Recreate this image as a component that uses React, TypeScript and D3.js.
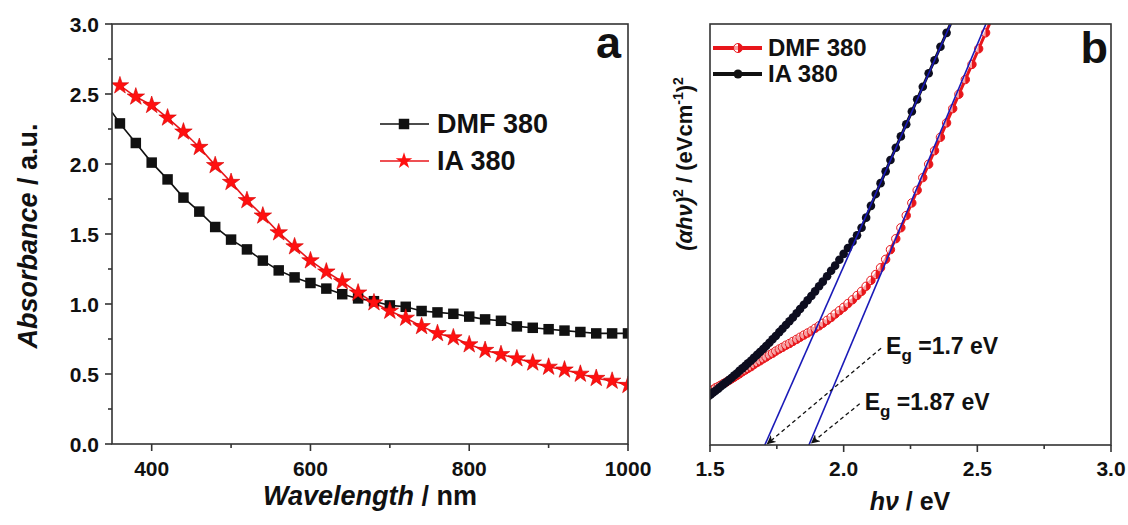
import React from 'react';
import * as d3 from 'd3';

// ---------- Panel a data ----------
const wavelengths = [360, 380, 400, 420, 440, 460, 480, 500, 520, 540, 560, 580, 600, 620, 640, 660, 680, 700, 720, 740, 760, 780, 800, 820, 840, 860, 880, 900, 920, 940, 960, 980, 1000];
const dmfStart = { wl: 350, a: 2.37 };
const dmfAbs = [2.29, 2.15, 2.01, 1.89, 1.76, 1.66, 1.55, 1.46, 1.39, 1.31, 1.24, 1.19, 1.15, 1.11, 1.07, 1.04, 1.02, 0.99, 0.98, 0.95, 0.94, 0.93, 0.91, 0.89, 0.88, 0.84, 0.83, 0.82, 0.81, 0.80, 0.79, 0.79, 0.79];
const iaAbs = [2.56, 2.48, 2.42, 2.33, 2.23, 2.12, 1.99, 1.87, 1.74, 1.63, 1.51, 1.41, 1.31, 1.23, 1.16, 1.08, 1.01, 0.95, 0.90, 0.84, 0.79, 0.76, 0.71, 0.67, 0.64, 0.61, 0.58, 0.55, 0.53, 0.50, 0.47, 0.45, 0.42];
const aXTicks = [400, 600, 800, 1000];
const aXMinor = [500, 700, 900];
const aYTicks = [0, 0.5, 1.0, 1.5, 2.0, 2.5, 3.0];
const aYMinor = [0.25, 0.75, 1.25, 1.75, 2.25, 2.75];

// ---------- Panel b data ----------
const hvGrid = [1.494, 1.503, 1.512, 1.521, 1.531, 1.540, 1.550, 1.560, 1.570, 1.580,
  1.590, 1.600, 1.610, 1.621, 1.632, 1.642, 1.653, 1.664, 1.676, 1.687,
  1.699, 1.710, 1.722, 1.734, 1.746, 1.759, 1.771, 1.784, 1.797, 1.810,
  1.824, 1.837, 1.851, 1.865, 1.879, 1.893, 1.908, 1.922, 1.938, 1.953,
  1.968, 1.984, 2.000, 2.016, 2.033, 2.050, 2.067, 2.084, 2.102, 2.120,
  2.138, 2.157, 2.175, 2.195, 2.214, 2.234, 2.255, 2.275, 2.296, 2.318,
  2.340, 2.362, 2.385, 2.408, 2.431, 2.455, 2.480, 2.505, 2.531, 2.558];
const iaTauc = [1.16, 1.20, 1.25, 1.29, 1.34, 1.39, 1.44, 1.49, 1.54, 1.59,
  1.65, 1.70, 1.76, 1.82, 1.88, 1.94, 2.00, 2.07, 2.14, 2.21,
  2.28, 2.35, 2.43, 2.51, 2.59, 2.68, 2.76, 2.85, 2.94, 3.03,
  3.13, 3.23, 3.33, 3.44, 3.54, 3.65, 3.77, 3.88, 4.01, 4.14,
  4.26, 4.40, 4.54, 4.68, 4.83, 4.98, 5.16, 5.40, 5.68, 5.96,
  6.22, 6.50, 6.77, 7.06, 7.33, 7.62, 7.92, 8.21, 8.51, 8.83,
  9.14, 9.46, 9.79, 10.12];
const dmfTauc = [1.26, 1.29, 1.32, 1.36, 1.39, 1.42, 1.46, 1.49, 1.53, 1.57,
  1.61, 1.65, 1.69, 1.74, 1.78, 1.82, 1.86, 1.91, 1.96, 2.00,
  2.05, 2.09, 2.14, 2.18, 2.23, 2.28, 2.32, 2.37, 2.41, 2.46,
  2.51, 2.56, 2.61, 2.66, 2.71, 2.77, 2.83, 2.89, 2.96, 3.03,
  3.11, 3.19, 3.27, 3.36, 3.45, 3.55, 3.65, 3.77, 3.91, 4.05,
  4.21, 4.41, 4.64, 4.90, 5.16, 5.45, 5.75, 6.05, 6.35, 6.67,
  6.99, 7.31, 7.65, 7.99, 8.33, 8.68, 9.04, 9.41, 9.79, 10.18];
const iaFitHv = [1.705, 2.40];
const dmfFitHv = [1.870, 2.532];
const fitY = [0, 10];
const bXTicks = [1.5, 2.0, 2.5, 3.0];
const bXMinor = [1.75, 2.25, 2.75];
// Eg annotations: label value, arrow start (hv, y), arrow end (hv, y)
const egValues = ['1.7', '1.87'];
const egArrowFrom = [[2.14, 2.3], [2.06, 0.98]];
const egArrowTo = [[1.715, 0.03], [1.88, 0.05]];

const FONT = '"Liberation Sans", Arial, sans-serif';
const AX = '#333';

const A = { left: 112, right: 628, top: 24, bottom: 444 };
const B = { left: 710, right: 1111, top: 24, bottom: 445 };

const xa = d3.scaleLinear().domain([350, 1000]).range([A.left, A.right]);
const ya = d3.scaleLinear().domain([0, 3]).range([A.bottom, A.top]);
const xb = d3.scaleLinear().domain([1.5, 3.0]).range([B.left, B.right]);
const yb = d3.scaleLinear().domain([0, 10]).range([B.bottom, B.top]);

const squarePath = d3.symbol(d3.symbolSquare, 110)()!;
const starPath = d3.symbol(d3.symbolStar, 95)()!;
const legendStarPath = d3.symbol(d3.symbolStar, 85)()!;

function HalfCircle({ x, y, r }: { x: number; y: number; r: number }) {
  return (
    <g transform={`translate(${x},${y})`}>
      <circle r={r} fill="#fff" fillOpacity={0.6} stroke="#e8161b" strokeWidth={1} />
      <path d={`M0,${-r} A${r},${r} 0 0 1 0,${r} Z`} fill="#e8161b" />
    </g>
  );
}

export default function App() {
  const dmfPts = [dmfStart, ...wavelengths.map((w, i) => ({ wl: w, a: dmfAbs[i] }))];
  const iaPts = wavelengths.map((w, i) => ({ wl: w, a: iaAbs[i] }));
  const lineA = d3.line<{ wl: number; a: number }>().x(d => xa(d.wl)).y(d => ya(d.a));

  const iaB = iaTauc.map((v, i) => ({ h: hvGrid[i], v }));
  const dmfB = dmfTauc.map((v, i) => ({ h: hvGrid[i], v }));
  const lineB = d3.line<{ h: number; v: number }>().x(d => xb(d.h)).y(d => yb(d.v));

  const tickFont = { fontFamily: FONT, fontWeight: 'bold' as const, fontSize: 21, fill: '#111' };

  return (
    <svg width={1128} height={525} style={{ position: 'absolute', left: 0, top: 0, background: '#fff' }}>
      <defs>
        <clipPath id="clipA"><rect x={A.left} y={A.top} width={A.right - A.left} height={A.bottom - A.top} /></clipPath>
        <clipPath id="clipB"><rect x={B.left} y={B.top} width={B.right - B.left} height={B.bottom - B.top} /></clipPath>
        <marker id="arrowHead" viewBox="0 0 10 10" refX="9" refY="5" markerWidth="7" markerHeight="7" orient="auto">
          <path d="M0,0 L10,5 L0,10 L3,5 Z" fill="#111" />
        </marker>
      </defs>
      <rect x={0} y={0} width={1128} height={525} fill="#fff" />

      {/* ================= Panel a ================= */}
      <g clipPath="url(#clipA)">
        <path d={lineA(dmfPts)!} fill="none" stroke="#111" strokeWidth={1.6} />
        <path d={lineA(iaPts)!} fill="none" stroke="#e8161b" strokeWidth={1.6} />
        {dmfPts.filter(d => d.wl >= 360).map((d, i) => (
          <path key={'s' + i} d={squarePath} transform={`translate(${xa(d.wl)},${ya(d.a)})`} fill="#111" />
        ))}
        {iaPts.map((d, i) => (
          <path key={'t' + i} d={starPath} transform={`translate(${xa(d.wl)},${ya(d.a)})`} fill="#ff1010" stroke="#d40000" strokeWidth={0.6} />
        ))}
      </g>
      <rect x={A.left} y={A.top} width={A.right - A.left} height={A.bottom - A.top} fill="none" stroke={AX} strokeWidth={1.6} />
      {aXTicks.map(t => (
        <g key={'ax' + t}>
          <line x1={xa(t)} x2={xa(t)} y1={A.bottom} y2={A.bottom + 7} stroke={AX} strokeWidth={1.6} />
          <text x={xa(t)} y={476} textAnchor="middle" {...tickFont}>{t}</text>
        </g>
      ))}
      {aXMinor.map(t => (
        <line key={'axm' + t} x1={xa(t)} x2={xa(t)} y1={A.bottom} y2={A.bottom + 4} stroke={AX} strokeWidth={1.6} />
      ))}
      {aYTicks.map(t => (
        <g key={'ay' + t}>
          <line x1={A.left - 7} x2={A.left} y1={ya(t)} y2={ya(t)} stroke={AX} strokeWidth={1.6} />
          <text x={99} y={ya(t) + 7.5} textAnchor="end" {...tickFont}>{t.toFixed(1)}</text>
        </g>
      ))}
      {aYMinor.map(t => (
        <line key={'aym' + t} x1={A.left - 4} x2={A.left} y1={ya(t)} y2={ya(t)} stroke={AX} strokeWidth={1.6} />
      ))}
      <text x={370} y={505} textAnchor="middle" fontFamily={FONT} fontWeight="bold" fontSize={27} fill="#111">
        <tspan fontStyle="italic">Wavelength</tspan> / nm
      </text>
      <text transform={`translate(37,${236}) rotate(-90)`} textAnchor="middle" fontFamily={FONT} fontWeight="bold" fontSize={27} fill="#111">
        <tspan fontStyle="italic">Absorbance</tspan> / a.u.
      </text>
      <text x={621} y={58} textAnchor="end" fontFamily={FONT} fontWeight="bold" fontSize={45} fill="#111">a</text>
      {/* legend a */}
      <line x1={380} x2={429} y1={124} y2={124} stroke="#111" strokeWidth={1.6} />
      <path d={squarePath} transform="translate(404,124)" fill="#111" />
      <text x={437} y={133} fontFamily={FONT} fontWeight="bold" fontSize={27} fill="#111">DMF 380</text>
      <line x1={380} x2={429} y1={161} y2={161} stroke="#e8161b" strokeWidth={1.6} />
      <path d={legendStarPath} transform="translate(404,161)" fill="#ff1010" />
      <text x={437} y={170} fontFamily={FONT} fontWeight="bold" fontSize={27} fill="#111">IA 380</text>

      {/* ================= Panel b ================= */}
      <g clipPath="url(#clipB)">
        <path d={lineB(dmfB)!} fill="none" stroke="#e8161b" strokeWidth={3} />
        {dmfB.map((d, i) => (
          <HalfCircle key={'h' + i} x={xb(d.h)} y={yb(d.v)} r={4.2} />
        ))}
        <path d={lineB(iaB)!} fill="none" stroke="#111" strokeWidth={3} />
        {iaB.map((d, i) => (
          <circle key={'c' + i} cx={xb(d.h)} cy={yb(d.v)} r={4.3} fill="#0d0d1f" />
        ))}
        <line x1={xb(iaFitHv[0])} y1={yb(fitY[0])} x2={xb(iaFitHv[1])} y2={yb(fitY[1])} stroke="#1a1ab8" strokeWidth={1.6} />
        <line x1={xb(dmfFitHv[0])} y1={yb(fitY[0])} x2={xb(dmfFitHv[1])} y2={yb(fitY[1])} stroke="#1a1ab8" strokeWidth={1.6} />
        {egArrowFrom.map((f, i) => (
          <line key={'ar' + i} x1={xb(f[0])} y1={yb(f[1])} x2={xb(egArrowTo[i][0])} y2={yb(egArrowTo[i][1])}
            stroke="#111" strokeWidth={1.3} strokeDasharray="4,3" markerEnd="url(#arrowHead)" />
        ))}
      </g>
      {egValues.map((v, i) => (
        <text key={'eg' + i} x={xb(egArrowFrom[i][0]) + 5} y={yb(egArrowFrom[i][1]) + 6} fontFamily={FONT} fontWeight="bold" fontSize={23} fill="#111">
          E<tspan fontSize={17} dy={7}>g</tspan><tspan dy={-7}> ={v} eV</tspan>
        </text>
      ))}
      <rect x={B.left} y={B.top} width={B.right - B.left} height={B.bottom - B.top} fill="none" stroke={AX} strokeWidth={1.6} />
      {bXTicks.map(t => (
        <g key={'bx' + t}>
          <line x1={xb(t)} x2={xb(t)} y1={B.bottom} y2={B.bottom + 7} stroke={AX} strokeWidth={1.6} />
          <text x={xb(t)} y={476} textAnchor="middle" {...tickFont}>{t.toFixed(1)}</text>
        </g>
      ))}
      {bXMinor.map(t => (
        <line key={'bxm' + t} x1={xb(t)} x2={xb(t)} y1={B.bottom} y2={B.bottom + 4} stroke={AX} strokeWidth={1.6} />
      ))}
      <text x={910} y={510} textAnchor="middle" fontFamily={FONT} fontWeight="bold" fontSize={25} fill="#111">
        <tspan fontStyle="italic">hν</tspan> / eV
      </text>
      <text transform={`translate(692,${164}) rotate(-90)`} textAnchor="middle" fontFamily={FONT} fontWeight="bold" fontSize={22} fill="#111">
        <tspan fontStyle="italic">(αhν)</tspan><tspan fontSize={14} dy={-9}>2</tspan><tspan dy={9}> / (eVcm</tspan><tspan fontSize={14} dy={-9}>-1</tspan><tspan dy={9}>)</tspan><tspan fontSize={14} dy={-9}>2</tspan>
      </text>
      <text x={1108} y={63} textAnchor="end" fontFamily={FONT} fontWeight="bold" fontSize={45} fill="#111">b</text>
      {/* legend b */}
      <line x1={713} x2={762} y1={48} y2={48} stroke="#e8161b" strokeWidth={4} />
      <HalfCircle x={738} y={48} r={4.5} />
      <text x={768} y={56} fontFamily={FONT} fontWeight="bold" fontSize={24} fill="#111">DMF 380</text>
      <line x1={713} x2={762} y1={74} y2={74} stroke="#111" strokeWidth={4} />
      <circle cx={738} cy={74} r={4.5} fill="#111" />
      <text x={768} y={82} fontFamily={FONT} fontWeight="bold" fontSize={24} fill="#111">IA 380</text>
    </svg>
  );
}
